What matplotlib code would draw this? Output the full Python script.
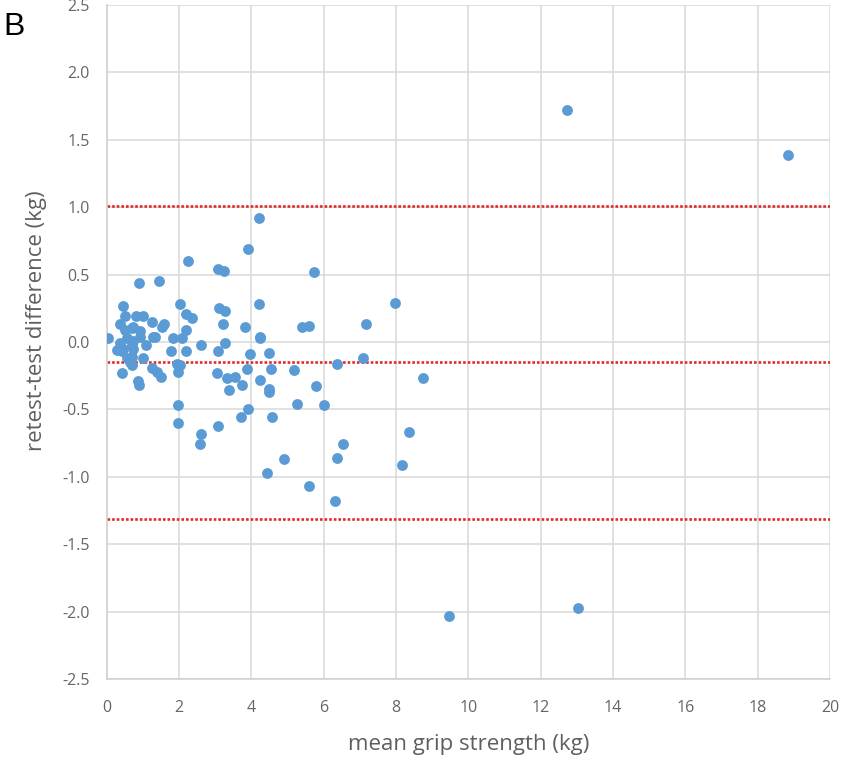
import numpy as np
import matplotlib.pyplot as plt
from matplotlib.ticker import FuncFormatter

# mean grip strength (kg) and retest-test difference (kg)
mean_grip = [
    0.04, 0.28, 0.36, 0.37, 0.41, 0.42, 0.46, 0.46, 0.51, 0.51, 0.55, 0.55,
    0.64, 0.69, 0.69, 0.69, 0.69, 0.73, 0.73, 0.74, 0.80, 0.86, 0.88, 0.89,
    0.92, 0.92, 1.01, 1.01, 1.09, 1.24, 1.24, 1.29, 1.33, 1.38, 1.44, 1.49,
    1.52, 1.58,
    1.78, 1.82, 1.93, 1.97, 1.97, 1.98, 2.02, 2.04, 2.07, 2.19, 2.20, 2.20,
    2.25, 2.35, 2.57, 2.60, 2.62,
    3.04, 3.07, 3.08, 3.08, 3.11, 3.22, 3.24, 3.28, 3.28, 3.33, 3.37, 3.56,
    3.71, 3.73, 3.82, 3.87, 3.91, 3.91, 3.97,
    4.21, 4.21, 4.24, 4.25, 4.25, 4.43, 4.48, 4.48, 4.48, 4.53, 4.57, 4.89,
    5.17, 5.27, 5.39, 5.59, 5.59, 5.73, 5.78, 6.02, 6.30, 6.37, 6.37, 6.53,
    7.09, 7.16, 7.96, 8.16, 8.35, 8.75, 9.46, 12.74, 13.02, 18.85,
]
diff = [
    0.03, -0.06, 0.13, -0.01, -0.07, -0.23, 0.27, -0.05, 0.19, 0.09, 0.03, -0.12,
    -0.15, 0.10, -0.02, -0.17, -0.11, 0.01, 0.11, -0.05, 0.19, -0.29, -0.32, 0.44,
    0.04, 0.08, -0.12, 0.19, -0.02, -0.19, 0.15, 0.04, 0.04, -0.22, 0.45, -0.26,
    0.11, 0.13,
    -0.07, 0.03, -0.16, -0.47, -0.60, -0.22, 0.28, -0.17, 0.03, 0.09, 0.21, -0.07,
    0.60, 0.18, -0.76, -0.68, -0.02,
    -0.23, -0.62, 0.54, -0.07, 0.25, 0.13, 0.53, 0.23, -0.01, -0.27, -0.36, -0.26,
    -0.56, -0.32, 0.11, -0.20, 0.69, -0.50, -0.09,
    0.92, 0.28, 0.04, 0.03, -0.28, -0.97, -0.08, -0.35, -0.37, -0.20, -0.56, -0.87,
    -0.21, -0.46, 0.11, 0.12, -1.07, 0.52, -0.33, -0.47, -1.18, -0.16, -0.86, -0.76,
    -0.12, 0.13, 0.29, -0.91, -0.67, -0.27, -2.03, 1.72, -1.97, 1.39,
]

mean_diff = -0.15
upper_loa = 1.01
lower_loa = -1.31

x_ticks = np.arange(0, 21, 2)
y_ticks = np.arange(-2.5, 2.51, 0.5)

grey = "#5f5f5f"
plt.rcParams["font.family"] = ["Open Sans", "DejaVu Sans"]

fig = plt.figure(figsize=(8.43, 7.64), dpi=100)
ax = fig.add_axes([0.1266, 0.1113, 0.8580, 0.8822])

ax.plot(mean_grip, diff, "o", color="#5b9bd5", markersize=7.8, markeredgewidth=0, zorder=3)
for yv in (upper_loa, mean_diff, lower_loa):
    ax.axhline(yv, color="#e02b2b", linewidth=1.9, linestyle=(0, (1, 0.75)), zorder=2)

ax.set_xlim(0, 20)
ax.set_ylim(-2.5, 2.5)
ax.set_xticks(x_ticks)
ax.set_yticks(y_ticks)
ax.yaxis.set_major_formatter(FuncFormatter(lambda v, p: f"{v:.1f}".replace("\u2212", "-")))
ax.grid(True, color="#d9d9d9", linewidth=1.1, zorder=0)
ax.set_axisbelow(True)
for side in ("top", "right"):
    ax.spines[side].set_visible(False)
for side in ("left", "bottom"):
    ax.spines[side].set_color("#cfcfcf")
    ax.spines[side].set_linewidth(1.1)
ax.tick_params(length=0, labelsize=11.5, labelcolor="#666666")
ax.tick_params(axis="x", pad=15)
ax.tick_params(axis="y", pad=12)

ax.set_xlabel("mean grip strength (kg)", fontsize=16, color=grey, labelpad=13)
ax.set_ylabel("retest-test difference (kg)", fontsize=16, color=grey)
ax.yaxis.set_label_coords(-0.082, 0.531)

fig.text(0.004, 0.984, "B", fontsize=23, family="Liberation Sans", va="top", ha="left")

fig.savefig("out.png", dpi=100)
